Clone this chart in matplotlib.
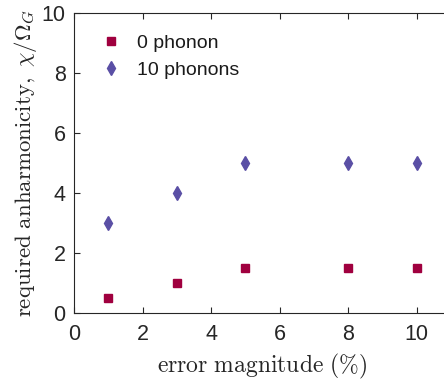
import numpy as np
import matplotlib
matplotlib.use("Agg")
import matplotlib.pyplot as plt

# data
error_pct = [1, 3, 5, 8, 10]
chi_0_phonon = [0.5, 1.0, 1.5, 1.5, 1.5]
chi_10_phonons = [3, 4, 5, 5, 5]
x_ticks = [0, 2, 4, 6, 8, 10]
y_ticks = [0, 2, 4, 6, 8, 10]

plt.rcParams['font.family'] = ['Liberation Sans', 'DejaVu Sans']
plt.rcParams['mathtext.fontset'] = 'cm'

W, H = 444, 381
fig = plt.figure(figsize=(W / 100, H / 100), dpi=100)
# axes box runs off the right edge, like the cropped original
ax = fig.add_axes([74 / W, (H - 313) / H, 377 / W, 300 / H])

ax.plot(error_pct, chi_0_phonon, linestyle='none', marker='s', markersize=6,
        color='#A0003F', label='0 phonon')
ax.plot(error_pct, chi_10_phonons, linestyle='none', marker='d', markersize=7.5,
        color='#5A4FA5', label='10 phonons')

ax.set_xlim(0, 11)
ax.set_ylim(0, 10)
ax.set_xticks(x_ticks)
ax.set_yticks(y_ticks)

edge = '#262626'
for s in ax.spines.values():
    s.set_color(edge)
    s.set_linewidth(0.8)
ax.tick_params(direction='in', top=True, right=True, length=4, width=0.8,
               colors=edge, labelsize=15.5)
ax.tick_params(axis='x', pad=8)
ax.tick_params(axis='y', pad=6)
for lab in ax.get_xticklabels() + ax.get_yticklabels():
    lab.set_color(edge)

ax.set_xlabel(r'$\mathrm{error\ magnitude\ (\%)}$', fontsize=17, color=edge, labelpad=5)
ax.set_ylabel(r'$\mathrm{required\ anharmonicity,}\ \chi/\Omega_G$', fontsize=16.5,
              color=edge, labelpad=2)

leg = ax.legend(loc='upper left', bbox_to_anchor=(0.053, 0.955), frameon=False,
                fontsize=14, handlelength=1.0, handletextpad=0.8,
                labelspacing=0.5, borderaxespad=0.0)
for t in leg.get_texts():
    t.set_color('#1a1a1a')

fig.savefig('out.png', dpi=100)
